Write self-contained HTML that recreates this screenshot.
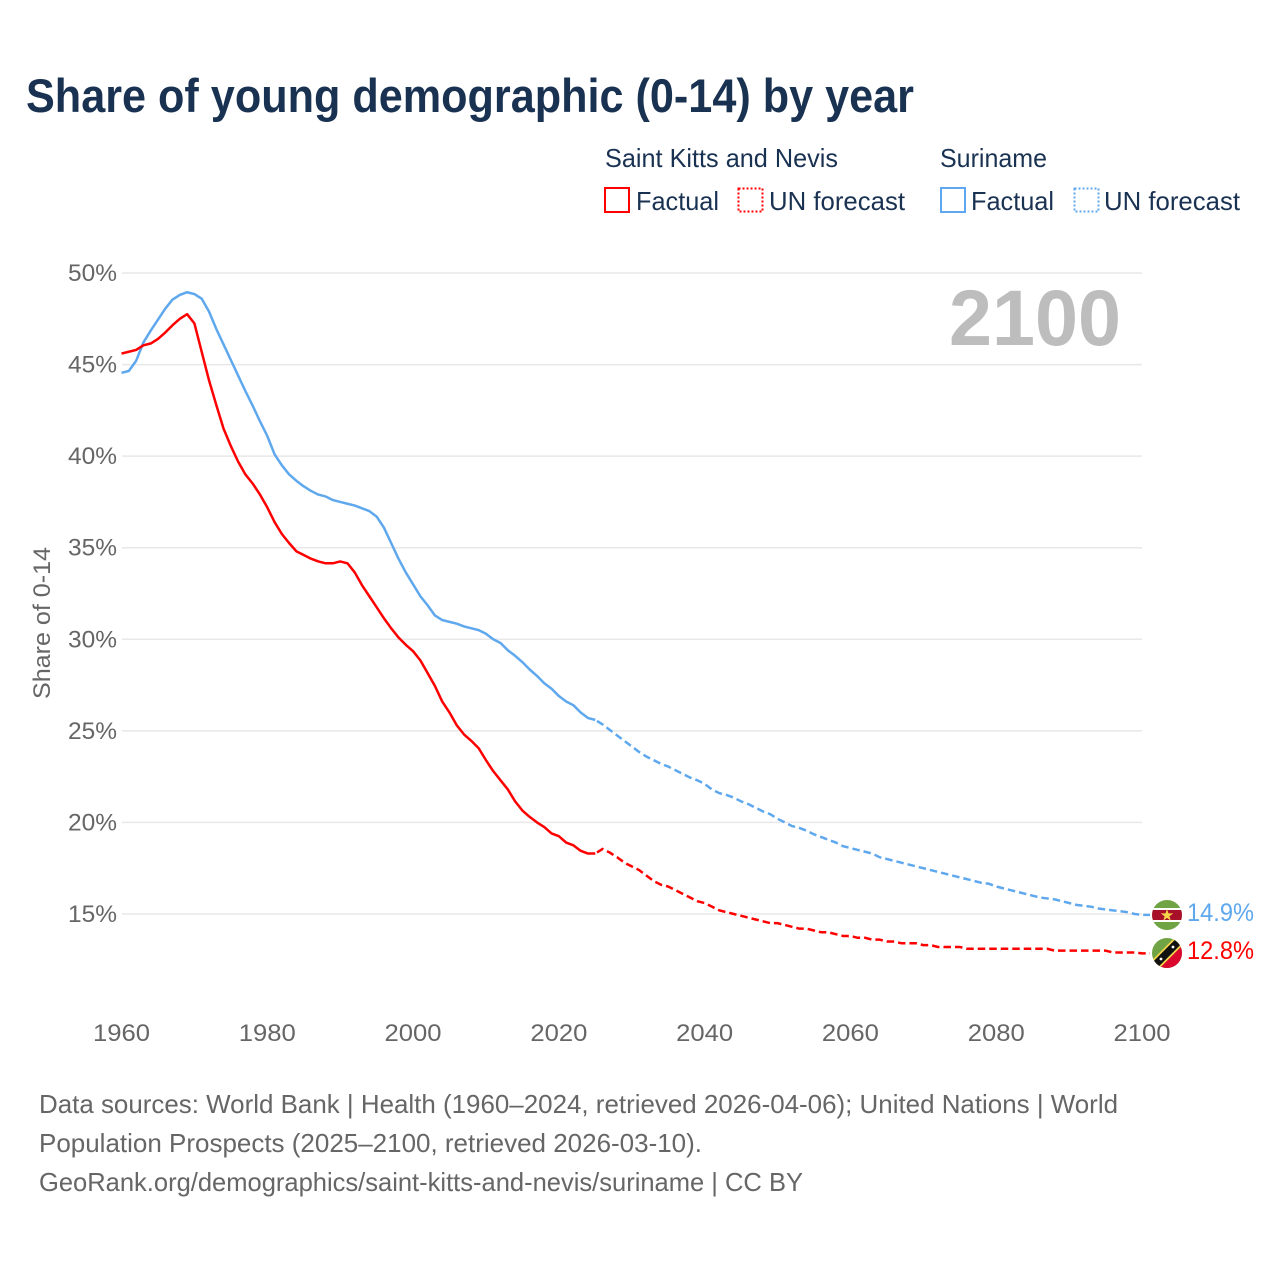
<!DOCTYPE html>
<html lang="en">
<head>
<meta charset="utf-8">
<title>Share of young demographic (0-14) by year</title>
<style>
html,body{margin:0;padding:0;background:#fff;width:1280px;height:1280px;overflow:hidden}
svg{display:block}
text{font-family:"Liberation Sans",sans-serif}
.leg{font-size:26px;fill:#1a3252}
.foot{font-size:26px;fill:#666}
.tick{font-size:24px;fill:#666}
</style>
</head>
<body>
<svg id="chart" width="1280" height="1280" viewBox="0 0 1280 1280" xmlns="http://www.w3.org/2000/svg">
<defs>
<clipPath id="flag-clip-a"><circle cx="1167" cy="915" r="15"/></clipPath>
<clipPath id="flag-clip-b"><circle cx="1167" cy="953" r="15"/></clipPath>
</defs>
<text x="26" y="112" font-size="47" font-weight="700" fill="#1a3252" textLength="888" lengthAdjust="spacingAndGlyphs">Share of young demographic (0-14) by year</text>

<g>
<text class="leg" x="605" y="167" textLength="233" lengthAdjust="spacingAndGlyphs">Saint Kitts and Nevis</text>
<text class="leg" x="940" y="167" textLength="107" lengthAdjust="spacingAndGlyphs">Suriname</text>
<rect x="605" y="188" width="24" height="24" fill="none" stroke="#ff0000" stroke-width="2"/>
<text class="leg" x="636" y="210" textLength="83" lengthAdjust="spacingAndGlyphs">Factual</text>
<rect x="738.5" y="188.5" width="24" height="23" fill="none" stroke="#ff0000" stroke-width="2" stroke-dasharray="2 2"/>
<text class="leg" x="769" y="210" textLength="136" lengthAdjust="spacingAndGlyphs">UN forecast</text>
<rect x="941" y="188" width="24" height="24" fill="none" stroke="#5fa8ee" stroke-width="2"/>
<text class="leg" x="971" y="210" textLength="83" lengthAdjust="spacingAndGlyphs">Factual</text>
<rect x="1074.5" y="188.5" width="24" height="23" fill="none" stroke="#5fa8ee" stroke-width="2" stroke-dasharray="2 2"/>
<text class="leg" x="1104" y="210" textLength="136" lengthAdjust="spacingAndGlyphs">UN forecast</text>
</g>

<text transform="translate(50,623) rotate(-90)" text-anchor="middle" font-size="24" fill="#666" textLength="152" lengthAdjust="spacingAndGlyphs">Share of 0-14</text>
<text x="949" y="345" font-size="79" font-weight="700" fill="#bdbdbd" textLength="172" lengthAdjust="spacingAndGlyphs">2100</text>

<g id="grid"></g>
<g id="xticks"></g>
<g id="series"></g>

<g clip-path="url(#flag-clip-a)">
<rect x="1152" y="900" width="30" height="30" fill="#6fa344"/>
<rect x="1152" y="908" width="30" height="14" fill="#fff"/>
<rect x="1152" y="910" width="30" height="10" fill="#a8102a"/>
<polygon points="1167,909 1168.5,913.4 1173.2,913.4 1169.4,916.2 1170.8,920.6 1167,917.9 1163.2,920.6 1164.6,916.2 1160.8,913.4 1165.5,913.4" fill="#f5d64a"/>
</g>
<g clip-path="url(#flag-clip-b)">
<rect x="1152" y="938" width="30" height="30" fill="#6fa344"/>
<polygon points="1182,968 1152,968 1182,938" fill="#d9082c"/>
<line x1="1152" y1="968" x2="1182" y2="938" stroke="#f5d64a" stroke-width="11"/>
<line x1="1152" y1="968" x2="1182" y2="938" stroke="#111" stroke-width="7.5"/>
<circle cx="1161" cy="959" r="1.4" fill="#fff"/>
<circle cx="1173" cy="947" r="1.4" fill="#fff"/>
</g>

<g id="endlabels"></g>

<g>
<text class="foot" x="39" y="1113" textLength="1079" lengthAdjust="spacingAndGlyphs">Data sources: World Bank | Health (1960–2024, retrieved 2026-04-06); United Nations | World</text>
<text class="foot" x="39" y="1152" textLength="663" lengthAdjust="spacingAndGlyphs">Population Prospects (2025–2100, retrieved 2026-03-10).</text>
<text class="foot" x="39" y="1191" textLength="764" lengthAdjust="spacingAndGlyphs">GeoRank.org/demographics/saint-kitts-and-nevis/suriname | CC BY</text>
</g>
</svg>
<script>
const yTicks = [50, 45, 40, 35, 30, 25, 20, 15];
const xTicks = [1960, 1980, 2000, 2020, 2040, 2060, 2080, 2100];
const factualStartYear = 1960;
const kittsFactual = [45.6,45.7,45.8,46.05,46.15,46.4,46.75,47.15,47.5,47.75,47.25,45.7,44.15,42.8,41.5,40.55,39.7,39.0,38.5,37.9,37.2,36.4,35.75,35.25,34.8,34.6,34.4,34.25,34.15,34.15,34.25,34.15,33.65,32.95,32.35,31.75,31.15,30.6,30.1,29.7,29.35,28.85,28.15,27.45,26.6,26.0,25.3,24.8,24.45,24.05,23.4,22.8,22.3,21.8,21.15,20.65,20.3,20.0,19.75,19.4,19.25,18.9,18.75,18.45,18.3,18.3];
const kittsForecast = [18.55,18.35,18.1,17.8,17.6,17.4,17.1,16.8,16.6,16.5,16.3,16.1,15.9,15.7,15.6,15.4,15.2,15.1,15.0,14.9,14.8,14.7,14.6,14.5,14.5,14.4,14.3,14.2,14.2,14.1,14.0,14.0,13.9,13.8,13.8,13.7,13.7,13.6,13.6,13.5,13.5,13.4,13.4,13.4,13.3,13.3,13.2,13.2,13.2,13.2,13.1,13.1,13.1,13.1,13.1,13.1,13.1,13.1,13.1,13.1,13.1,13.1,13.0,13.0,13.0,13.0,13.0,13.0,13.0,13.0,12.9,12.9,12.9,12.9,12.85];
const surinameFactual = [44.55,44.65,45.2,46.2,46.85,47.45,48.05,48.55,48.8,48.95,48.85,48.6,47.9,46.95,46.1,45.25,44.4,43.55,42.75,41.9,41.1,40.1,39.5,39.0,38.65,38.35,38.1,37.9,37.8,37.6,37.5,37.4,37.3,37.15,37.0,36.7,36.1,35.25,34.4,33.65,33.0,32.35,31.85,31.3,31.05,30.95,30.85,30.7,30.6,30.5,30.3,30.0,29.8,29.4,29.1,28.75,28.35,28.0,27.6,27.3,26.9,26.6,26.4,26.0,25.7,25.6];
const surinameForecast = [25.35,25.05,24.75,24.45,24.15,23.85,23.6,23.4,23.2,23.05,22.85,22.65,22.45,22.3,22.1,21.8,21.6,21.5,21.35,21.15,21.0,20.8,20.6,20.45,20.2,20.0,19.8,19.7,19.55,19.35,19.2,19.05,18.9,18.7,18.6,18.5,18.4,18.3,18.1,18.0,17.9,17.8,17.7,17.6,17.5,17.4,17.3,17.2,17.1,17.0,16.9,16.8,16.7,16.65,16.5,16.4,16.3,16.2,16.1,16.0,15.9,15.85,15.8,15.7,15.6,15.5,15.45,15.4,15.3,15.25,15.2,15.15,15.1,15.0,14.95];
const endLabels = ["14.9%", "12.8%"];

const NS = 'http://www.w3.org/2000/svg';
const X = function (year) { return 121.5 + (year - 1960) * (1142 - 121.5) / 140; };
const Y = function (pct) { return 273 + (50 - pct) * (914 - 273) / 35; };

function make(tag, attrs, parent, text) {
  const el = document.createElementNS(NS, tag);
  for (const k in attrs) el.setAttribute(k, attrs[k]);
  if (text !== undefined) el.textContent = text;
  document.getElementById(parent).appendChild(el);
  return el;
}

yTicks.forEach(function (t) {
  const line = make('line', {x1: 122, x2: 1142, y1: Y(t), y2: Y(t), stroke: '#e8e8e8', 'stroke-width': 1.5}, 'grid');
  
  
  const label = make('text', {x: 68, y: Y(t) + 8, class: 'tick', textLength: 49, lengthAdjust: 'spacingAndGlyphs'}, 'grid', t + '%');
  
  
});

xTicks.forEach(function (t) {
  const label = make('text', {x: X(t) - 28.5, y: 1041, class: 'tick', textLength: 57, lengthAdjust: 'spacingAndGlyphs'}, 'xticks', String(t));
  
  
});

function pathFrom(values, startYear) {
  return values.map(function (v, i) {
    return (i ? 'L' : 'M') + X(startYear + i).toFixed(2) + ' ' + Y(v).toFixed(2);
  }).join(' ');
}

function factualPath(values, color) {
  return make('path', {d: pathFrom(values, factualStartYear), fill: 'none', stroke: color, 'stroke-width': 2.5, 'stroke-linejoin': 'round'}, 'series');
}

function forecastPath(factual, values, color) {
  const lastYear = factualStartYear + factual.length - 1;
  const joined = [factual[factual.length - 1]].concat(values);
  const d = pathFrom(joined, lastYear) + ' H1150';
  return make('path', {d: d, fill: 'none', stroke: color, 'stroke-width': 2.5, 'stroke-dasharray': '7.5 4', 'stroke-dashoffset': 9.5}, 'series');
}

const surF = factualPath(surinameFactual, '#5fa8ee');


const surP = forecastPath(surinameFactual, surinameForecast, '#5fa8ee');


const kitF = factualPath(kittsFactual, '#ff0000');


const kitP = forecastPath(kittsFactual, kittsForecast, '#ff0000');



const lblS = make('text', {x: 1187, y: 921, 'font-size': 25, fill: '#5fa8ee', textLength: 67, lengthAdjust: 'spacingAndGlyphs'}, 'endlabels', endLabels[0]);


const lblK = make('text', {x: 1187, y: 959, 'font-size': 25, fill: '#ff0000', textLength: 67, lengthAdjust: 'spacingAndGlyphs'}, 'endlabels', endLabels[1]);


</script>
</body>
</html>
